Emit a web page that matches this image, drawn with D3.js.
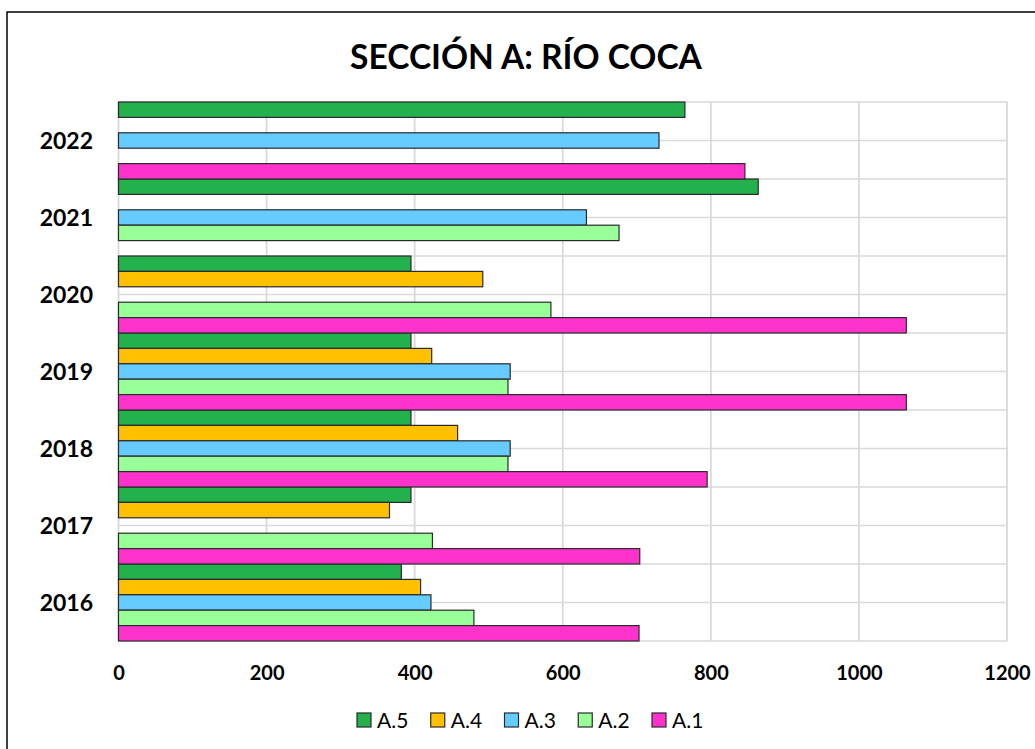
<!DOCTYPE html>
<html>
<head>
<meta charset="utf-8">
<script src="https://cdn.jsdelivr.net/npm/d3@7"></script>
<style>
  html, body { margin: 0; padding: 0; background: #fff; }
  svg { display: block; }
</style>
</head>
<body>
<svg id="chart" width="1035" height="749"></svg>
<script>
const title = "SECCIÓN A: RÍO COCA";
const years = ["2022", "2021", "2020", "2019", "2018", "2017", "2016"];
const seriesNames = ["A.5", "A.4", "A.3", "A.2", "A.1"];
const seriesColors = ["#22B14C", "#FFC000", "#66CCFF", "#99FF99", "#FF33CC"];
// values per year (same order as years), null = no bar
const A5 = [765, 864, 395, 395, 395, 395, 382];
const A4 = [null, null, 492, 423, 458, 366, 408];
const A3 = [730, 632, null, 529, 529, null, 422];
const A2 = [null, 676, 584, 526, 526, 424, 480];
const A1 = [846, null, 1064, 1064, 795, 704, 703];
const xTicks = [0, 200, 400, 600, 800, 1000, 1200];

(function () {
const seriesValues = [A5, A4, A3, A2, A1];
const svg = d3.select("#chart");
const FONT = "Lato, 'Open Sans', 'DejaVu Sans', sans-serif";

// chart border
svg.append("rect").attr("x", 7).attr("y", 12).attr("width", 1040).attr("height", 760)
  .attr("fill", "#fff").attr("stroke", "#000").attr("stroke-width", 1.5);

const pL = 118.5, pR = 1007, pT = 102, pB = 641;
const x = d3.scaleLinear().domain([0, 1200]).range([pL, pR]);
const y = d3.scaleBand().domain(years).range([pT, pB]).padding(0);
const yi = d3.scaleBand().domain(seriesNames).range([0, y.bandwidth()]).padding(0);

// gridlines
const g = svg.append("g");
const hLines = [];
years.forEach(yr => { hLines.push(y(yr)); hLines.push(y(yr) + y.bandwidth() / 2); });
hLines.push(pB);
g.selectAll("line.h").data(hLines).enter().append("line")
  .attr("x1", pL).attr("x2", pR).attr("y1", d => d).attr("y2", d => d)
  .attr("stroke", "#d9d9d9").attr("stroke-width", 1.5);
g.selectAll("line.v").data(xTicks).enter().append("line")
  .attr("x1", d => x(d)).attr("x2", d => x(d)).attr("y1", pT).attr("y2", pB)
  .attr("stroke", "#d9d9d9").attr("stroke-width", 1.8);

// bars
const bars = [];
seriesNames.forEach((s, si) => {
  years.forEach((yr, k) => {
    const v = seriesValues[si][k];
    if (v != null) bars.push({ s, si, yr, v });
  });
});
svg.append("g").selectAll("rect").data(bars).enter().append("rect")
  .attr("x", x(0))
  .attr("y", d => y(d.yr) + yi(d.s))
  .attr("width", d => x(d.v) - x(0))
  .attr("height", yi.bandwidth())
  .attr("fill", d => seriesColors[d.si])
  .attr("stroke", "#2a2a2a").attr("stroke-width", 1.2);

// x axis labels
const xAxis = d3.axisBottom(x).tickValues(xTicks).tickSize(0).tickPadding(0).tickFormat(d3.format("d"));
const xa = svg.append("g").attr("transform", `translate(0, ${pB})`).call(xAxis);
xa.select(".domain").remove();
xa.selectAll("text").attr("dy", null).attr("y", 39)
  .attr("font-family", FONT).attr("font-weight", "bold").attr("font-size", 20).attr("fill", "#000");

// y axis labels
const yAxis = d3.axisLeft(y).tickSize(0).tickPadding(0);
const ya = svg.append("g").attr("transform", `translate(93, 0)`).call(yAxis);
ya.select(".domain").remove();
ya.selectAll("text").attr("dy", "0.36em").attr("x", 0)
  .attr("font-family", FONT).attr("font-weight", "bold").attr("font-size", 23).attr("fill", "#000");

// title
const t = svg.append("text").attr("x", 526).attr("y", 69).attr("text-anchor", "middle")
  .attr("font-family", FONT).attr("font-weight", "bold").attr("font-size", 33).attr("fill", "#000")
  .text(title);
const tw = t.node().getComputedTextLength();
if (tw > 0) t.attr("font-size", 33 * 352 / tw);

// legend
const legX = d3.scalePoint().domain(seriesNames).range([357, 652]);
const leg = svg.append("g").selectAll("g").data(seriesNames).enter().append("g")
  .attr("transform", d => `translate(${legX(d)}, 713)`);
leg.append("rect").attr("width", 14).attr("height", 14)
  .attr("fill", (d, i) => seriesColors[i]).attr("stroke", "#2a2a2a").attr("stroke-width", 1.2);
leg.append("text").attr("x", 20).attr("y", 15).text(d => d)
  .attr("font-family", FONT).attr("font-size", 21).attr("fill", "#000");
})();
</script>
</body>
</html>
